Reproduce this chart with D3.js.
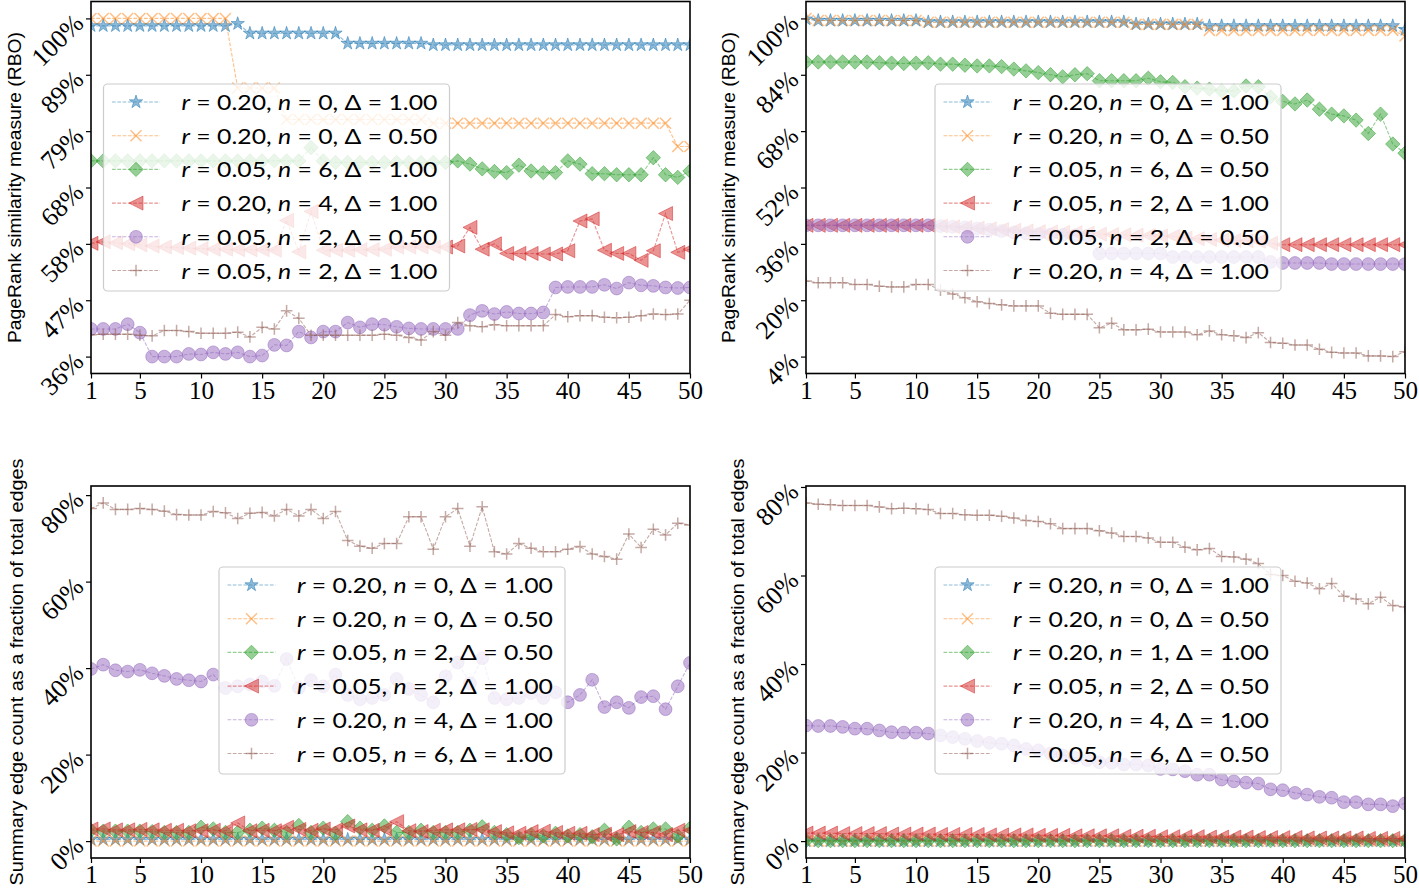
<!DOCTYPE html>
<html><head><meta charset="utf-8">
<script src="https://cdn.jsdelivr.net/npm/d3@7"></script>
<style>body{margin:0;background:#fff}svg{display:block}</style>
</head><body><svg id="c" width="1419" height="891"></svg>
<script>
// ---------------- data ----------------
const steps = [1,2,3,4,5,6,7,8,9,10,11,12,13,14,15,16,17,18,19,20,21,22,23,24,25,26,27,28,29,30,31,32,33,34,35,36,37,38,39,40,41,42,43,44,45,46,47,48,49,50];
const xTicks = [1,5,10,15,20,25,30,35,40,45,50];
const rboTicksA = [36.4,47.0,57.6,68.2,78.8,89.4,100];
const rboTicksB = [3.9,19.92,35.93,51.95,67.97,83.98,100];
const edgeTicks = [0,20,40,60,80];

// Panel A (top-left) RBO
const rboA_blue = [98.6,98.6,98.6,98.6,98.6,98.6,98.6,98.6,98.6,98.6,98.6,98.6,99.0,97.2,97.2,97.2,97.2,97.2,97.2,97.2,97.2,95.3,95.3,95.3,95.3,95.3,95.3,95.3,95.0,95.0,95.0,95.0,95.0,95.0,95.0,95.0,95.0,95.0,95.0,95.0,95.0,95.0,95.0,95.0,95.0,95.0,95.0,95.0,95.0,95.0];
const rboA_orange = [100,100,100,100,100,100,100,100,100,100,100,100,86.9,86.9,86.9,86.9,81.0,81.0,81.0,81.0,81.0,81.0,81.0,81.0,81.0,81.0,81.0,81.0,80.3,80.3,80.3,80.3,80.3,80.3,80.3,80.3,80.3,80.3,80.3,80.3,80.3,80.3,80.3,80.3,80.3,80.3,80.3,80.3,75.9,75.9];
const rboA_green = [73.2,73.2,73.2,73.2,73.2,73.2,73.2,73.2,73.2,73.2,73.2,73.2,73.2,73.2,73.2,73.2,73.2,73.2,75.7,73.2,72.9,72.9,72.9,72.9,72.9,72.9,72.9,72.9,72.9,72.9,73.2,72.6,71.7,71.2,71.0,72.4,71.3,71.0,71.0,73.2,72.6,70.8,70.8,70.6,70.6,70.6,73.8,70.6,70.1,71.3];
const rboA_red = [57.7,58.0,57.8,57.6,57.4,57.2,57.0,56.9,56.8,56.7,56.6,56.6,56.5,56.5,56.5,56.4,62.0,56.1,63.7,56.4,56.4,56.4,56.5,56.5,56.6,57.0,57.0,57.0,57.0,57.0,57.2,60.7,56.6,57.6,55.8,55.8,55.8,55.7,55.7,56.3,61.9,62.3,56.4,55.8,55.8,54.5,56.3,63.3,56.0,56.6];
const rboA_purple = [41.6,41.6,41.6,42.5,40.9,36.4,36.4,36.4,36.9,36.8,37.2,36.9,37.2,36.4,36.6,38.6,38.5,41.1,40.0,41.1,41.1,42.8,41.9,42.5,42.4,42.0,41.7,41.6,41.6,41.6,41.6,44.2,45.0,44.4,44.8,44.5,44.5,44.7,49.4,49.5,49.5,49.5,49.9,49.2,50.3,49.8,49.7,49.4,49.3,49.4];
const rboA_brown = [40.5,40.6,40.6,40.6,40.4,40.3,41.3,41.3,41.1,40.8,40.8,40.8,41.0,40.1,41.9,41.6,45.0,43.6,40.4,40.4,40.4,40.4,40.4,40.4,40.6,40.4,40.0,39.5,41.1,40.4,42.8,42.2,42.0,42.4,42.2,42.2,42.2,42.2,44.3,43.9,44.1,44.1,43.8,43.7,43.8,44.1,44.4,44.3,44.4,47.0];
// Panel B (top-right) RBO
const rboB_blue = [99.8,99.4,99.4,99.4,99.4,99.4,99.4,99.4,99.4,99.4,99.0,99.0,99.0,99.0,99.0,99.0,99.0,99.0,99.0,99.0,99.0,99.0,99.0,99.0,99.0,99.0,99.0,98.4,98.4,98.4,98.4,98.4,98.4,97.9,97.9,97.9,97.9,97.9,97.9,97.9,97.9,97.9,97.9,97.9,97.9,97.9,97.9,97.9,97.9,96.8];
const rboB_orange = [100,99.4,99.4,99.4,99.4,99.4,99.4,99.4,99.4,99.4,98.9,98.9,98.9,98.9,98.9,98.9,98.9,98.9,98.9,98.9,98.9,98.9,98.9,98.9,98.9,98.9,98.9,98.3,98.3,98.3,98.3,98.3,98.3,96.6,96.6,96.6,96.6,96.6,96.6,96.6,96.6,96.6,96.6,96.6,96.6,96.6,96.6,96.6,96.6,95.0];
const rboB_green = [87.6,87.6,87.6,87.6,87.6,87.6,87.4,87.3,87.2,87.3,87.4,87.0,87.0,86.7,86.5,86.5,86.3,85.6,85.1,84.6,84.0,83.4,84.0,84.3,82.3,82.3,82.3,82.3,83.0,82.0,81.8,80.6,80.2,79.9,79.4,79.4,80.8,80.6,77.7,76.4,75.7,76.8,74.2,72.8,72.3,71.1,67.3,72.8,64.3,61.7];
const rboB_red = [41.2,41.2,41.2,41.2,41.2,41.2,41.2,41.2,41.2,41.2,41.2,41.0,40.8,40.6,40.4,40.2,40.0,39.8,39.6,39.4,39.3,39.2,39.1,39.0,38.7,38.6,38.5,38.4,38.3,38.2,38.1,37.6,37.4,37.2,37.0,36.9,36.8,36.7,36.1,35.7,35.7,35.7,35.7,35.7,35.7,35.7,35.7,35.7,35.7,35.7];
const rboB_purple = [41.2,41.2,41.2,41.2,41.2,41.2,41.2,41.2,41.2,41.2,41.2,41.0,40.8,40.6,40.3,40.0,39.6,39.2,38.9,38.7,38.6,38.5,38.4,38.3,33.2,33.2,33.2,33.2,33.2,33.2,32.2,32.2,32.2,32.2,32.2,32.2,32.2,32.2,30.8,30.5,30.5,30.5,30.5,30.2,30.2,30.2,30.2,30.2,30.2,30.2];
const rboB_brown = [25.4,24.9,24.9,24.9,24.4,24.4,23.9,23.7,23.7,24.4,24.4,22.8,21.7,20.6,19.5,19.0,18.6,18.3,18.3,18.3,16.2,15.9,15.9,15.9,12.1,13.4,11.5,11.5,11.7,10.9,10.9,10.9,10.1,11.2,10.1,9.8,9.3,10.7,7.9,7.7,7.2,7.2,6.0,5.1,4.9,4.9,4.1,4.1,3.9,5.3];
// Panel C (bottom-left) edge fraction
const edgeC_blue = [0.4,0.4,0.4,0.4,0.4,0.4,0.4,0.4,0.4,0.4,0.4,0.4,0.4,0.4,0.4,0.4,0.4,0.4,0.4,0.4,0.4,0.4,0.4,0.4,0.4,0.4,0.4,0.4,0.4,0.4,0.4,0.4,0.4,0.4,0.4,0.4,0.4,0.4,0.4,0.4,0.4,0.4,0.4,0.4,0.4,0.4,0.4,0.4,0.4,0.4];
const edgeC_orange = [0,0,0,0,0,0,0,0,0,0,0,0,0,0,0,0,0,0,0,0,0,0,0,0,0,0,0,0,0,0,0,0,0,0,0,0,0,0,0,0,0,0,0,0,0,0,0,0,0,0];
const edgeC_green = [2.5,2.3,2.3,2.3,2.3,2.2,2.0,2.0,2.0,3.2,2.8,2.0,2.0,2.5,3.0,2.5,2.0,3.6,2.0,3.0,1.8,4.5,3.0,2.5,3.5,2.0,2.0,2.5,2.0,2.0,2.0,2.5,3.3,2.0,1.5,0.8,1.5,1.2,1.8,1.2,1.5,1.0,2.5,0.5,3.2,2.0,2.8,2.8,1.2,3.0];
const edgeC_red = [2.8,2.8,2.6,2.6,2.7,2.6,2.5,2.5,2.4,2.4,2.5,2.4,4.2,2.4,2.5,2.4,3.2,2.7,2.5,2.8,2.6,3.5,2.6,2.5,2.8,4.5,2.4,2.2,2.5,2.6,2.6,2.7,2.6,2.2,1.9,1.8,2.2,2.3,2.0,1.8,1.8,1.5,1.6,1.5,2.2,2.0,2.0,1.5,2.5,2.5];
const edgeC_purple = [39.8,40.8,39.5,39.2,39.6,38.8,38.2,37.5,37.2,36.9,38.5,35.4,35.8,36.2,36.9,35.9,42.1,35.4,37.2,35.8,38.5,33.8,32.8,33.1,33.8,37.5,35.2,33.8,32.1,38.1,41.3,36.5,42.3,33.1,32.8,33.1,34.2,33.1,34.4,32.1,33.8,37.3,31.0,32.1,30.8,33.3,33.5,30.5,35.8,41.2];
const edgeC_brown = [76.9,78.2,76.7,76.7,76.9,76.7,76.3,75.5,75.4,75.4,76.2,75.9,74.6,75.8,76.0,75.2,76.7,75.2,76.7,74.6,76.2,69.5,68.2,67.7,68.8,68.8,75.0,75.0,67.5,75.0,76.9,68.2,77.3,66.9,66.4,68.8,67.7,66.9,66.9,67.5,68.1,66.4,65.8,65.2,71.0,67.9,72.1,70.8,73.5,73.1];
// Panel D (bottom-right) edge fraction
const edgeD_blue = [0,0,0,0,0,0,0,0,0,0,0,0,0,0,0,0,0,0,0,0,0,0,0,0,0,0,0,0,0,0,0,0,0,0,0,0,0,0,0,0,0,0,0,0,0,0,0,0,0,0];
const edgeD_orange = [0,0,0,0,0,0,0,0,0,0,0,0,0,0,0,0,0,0,0,0,0,0,0,0,0,0,0,0,0,0,0,0,0,0,0,0,0,0,0,0,0,0,0,0,0,0,0,0,0,0];
const edgeD_green = [0.1,0.1,0.1,0.1,0.1,0.1,0.1,0.1,0.1,0.1,0.1,0.1,0.1,0.1,0.1,0.1,0.1,0.1,0.1,0.1,0.1,0.1,0.1,0.1,0.1,0.1,0.1,0.1,0.1,0.1,0.1,0.1,0.1,0.1,0.1,0.1,0.1,0.1,0.1,0.1,0.1,0.1,0.1,0.1,0.1,0.1,0.1,0.1,0.1,0.1];
const edgeD_red = [1.8,1.8,1.8,1.7,1.7,1.7,1.7,1.6,1.6,1.6,1.6,1.5,1.5,1.5,1.5,1.4,1.4,1.4,1.4,1.3,1.3,1.3,1.2,1.2,1.2,1.2,1.1,1.1,1.1,1.0,1.0,1.0,1.0,0.9,0.9,0.9,0.9,0.8,0.8,0.8,0.8,0.7,0.7,0.7,0.7,0.7,0.6,0.6,0.6,0.6];
const edgeD_purple = [26.1,26.0,26.0,25.8,25.4,25.4,25.0,24.6,24.5,24.5,24.3,23.9,23.5,23.1,22.6,22.2,22.0,21.6,20.8,20.5,19.8,19.4,18.8,18.3,17.8,17.7,17.3,17.3,17.1,16.3,16.2,15.8,15.0,15.0,13.9,13.5,13.2,13.0,11.7,11.5,10.9,10.5,10.0,9.8,8.8,8.8,8.3,8.3,7.9,8.5];
const edgeD_brown = [76.4,76.1,76.0,75.8,75.8,75.8,75.5,75.1,75.2,75.1,74.9,74.0,74.0,73.7,73.6,73.6,73.4,73.0,72.4,72.2,71.7,70.6,70.6,70.6,70.1,69.6,68.8,68.8,68.5,67.5,67.5,66.4,65.8,66.1,64.3,64.2,63.7,62.7,60.2,60.0,58.7,58.3,57.0,58.2,55.3,54.7,53.6,55.1,53.2,52.9];

// legend labels [r, n, Delta]
const legendA = [["0.20","0","1.00"],["0.20","0","0.50"],["0.05","6","1.00"],["0.20","4","1.00"],["0.05","2","0.50"],["0.05","2","1.00"]];
const legendB = [["0.20","0","1.00"],["0.20","0","0.50"],["0.05","6","0.50"],["0.05","2","1.00"],["0.05","2","0.50"],["0.20","4","1.00"]];
const legendC = [["0.20","0","1.00"],["0.20","0","0.50"],["0.05","2","0.50"],["0.05","2","1.00"],["0.20","4","1.00"],["0.05","6","1.00"]];
const legendD = [["0.20","0","1.00"],["0.20","0","0.50"],["0.20","1","1.00"],["0.05","2","0.50"],["0.20","4","1.00"],["0.05","6","0.50"]];

const yLabelRbo = "PageRank similarity measure (RBO)";
const yLabelEdge = "Summary edge count as a fraction of total edges";

// ---------------- style / layout ----------------
const colors = ["#1f77b4","#ff7f0e","#2ca02c","#d62728","#9467bd","#8c564b"];
const shapes = ["star","x","diamond","tri","circle","plus"];

const panels = [
  {x:91, y:1.5, w:599, h:372, ticks:rboTicksA, label:yLabelRbo, labelX:14, labelLen:311,
   series:[rboA_blue,rboA_orange,rboA_green,rboA_red,rboA_purple,rboA_brown], legend:legendA, lx:103.5, ly:84},
  {x:806, y:1.5, w:599, h:372, ticks:rboTicksB, label:yLabelRbo, labelX:728, labelLen:311,
   series:[rboB_blue,rboB_orange,rboB_green,rboB_red,rboB_purple,rboB_brown], legend:legendB, lx:935, ly:84},
  {x:91, y:486, w:599, h:372, ticks:edgeTicks, label:yLabelEdge, labelX:16, labelLen:427,
   series:[edgeC_blue,edgeC_orange,edgeC_green,edgeC_red,edgeC_purple,edgeC_brown], legend:legendC, lx:219, ly:567},
  {x:806, y:486, w:599, h:372, ticks:edgeTicks, label:yLabelEdge, labelX:737, labelLen:427,
   series:[edgeD_blue,edgeD_orange,edgeD_green,edgeD_red,edgeD_purple,edgeD_brown], legend:legendD, lx:935, ly:567}
];

function shapePath(s){
  if (s === "star") {
    const R = 7, r = R*0.382; let d = "";
    for (let i=0;i<10;i++){
      const rad = i%2===0 ? R : r;
      const a = -Math.PI/2 + i*Math.PI/5;
      d += (i===0?"M":"L") + (rad*Math.cos(a)).toFixed(2) + "," + (rad*Math.sin(a)).toFixed(2);
    }
    return d + "Z";
  }
  if (s === "x") return "M-5.5,-5.5L5.5,5.5M-5.5,5.5L5.5,-5.5";
  if (s === "diamond") return "M0,-7.2L7.2,0L0,7.2L-7.2,0Z";
  if (s === "tri") return "M-7,0L7,-7L7,7Z";
  if (s === "circle") return "M6.4,0A6.4,6.4 0 1,1 -6.4,0A6.4,6.4 0 1,1 6.4,0Z";
  if (s === "plus") return "M-5.8,0L5.8,0M0,-5.8L0,5.8";
}
const stroked = s => s === "x" || s === "plus";

function drawMarker(g, s, c, x, y){
  const p = g.append("path").attr("d", shapePath(s)).attr("transform", `translate(${x},${y})`);
  if (stroked(s)) p.attr("fill","none").attr("stroke",c).attr("stroke-width",1.5).attr("stroke-opacity",0.5);
  else p.attr("fill",c).attr("fill-opacity",0.5).attr("stroke",c).attr("stroke-width",1).attr("stroke-opacity",0.5);
}

const svg = d3.select("#c");
const fmtPct = d => d3.format(".0f")(d) + "%";

panels.forEach((p, pi) => {
  const xs = d3.scaleLinear().domain([1,50]).range([p.x, p.x + p.w]);
  const all = p.series.flat();
  const ext = d3.extent(all);
  const pad = (ext[1]-ext[0]) * 0.05;
  const ys = d3.scaleLinear().domain([ext[0]-pad, ext[1]+pad]).range([p.y + p.h, p.y]);

  const clipId = "clip" + pi;
  svg.append("clipPath").attr("id", clipId).append("rect")
    .attr("x", p.x).attr("y", p.y).attr("width", p.w).attr("height", p.h);

  const plot = svg.append("g").attr("clip-path", `url(#${clipId})`);
  p.series.forEach((vals, si) => {
    const c = colors[si];
    const line = d3.line().x((d,i) => xs(steps[i])).y(d => ys(d));
    plot.append("path").datum(vals).attr("d", line)
      .attr("fill","none").attr("stroke",c).attr("stroke-opacity",0.5)
      .attr("stroke-width",1.1).attr("stroke-dasharray","3.7,1.6");
    const mg = plot.append("g");
    vals.forEach((v,i) => drawMarker(mg, shapes[si], c, xs(steps[i]), ys(v)));
  });

  // axes
  const xAxis = d3.axisBottom(xs).tickValues(xTicks).tickSize(5).tickFormat(d3.format("d"));
  const gx = svg.append("g").attr("transform", `translate(0,${p.y + p.h})`).call(xAxis);
  gx.select(".domain").remove();
  gx.selectAll(".tick line").attr("stroke","#000").attr("stroke-width",1.2);
  gx.selectAll(".tick text").attr("y", 25).attr("dy", null)
    .attr("font-family","'Liberation Serif', 'DejaVu Serif', serif").attr("font-size", 25).attr("fill","#000");

  const yAxis = d3.axisLeft(ys).tickValues(p.ticks).tickSize(5).tickFormat(fmtPct);
  const gy = svg.append("g").attr("transform", `translate(${p.x},0)`).call(yAxis);
  gy.select(".domain").remove();
  gy.selectAll(".tick line").attr("stroke","#000").attr("stroke-width",1.2);
  gy.selectAll(".tick text").attr("x", null).attr("dy", null)
    .attr("transform","translate(-12,0) rotate(-45)")
    .attr("text-anchor","end").attr("dominant-baseline","central")
    .attr("font-family","'Liberation Serif', 'DejaVu Serif', serif").attr("font-size", 26).attr("fill","#000");

  // spines
  svg.append("rect").attr("x", p.x).attr("y", p.y).attr("width", p.w).attr("height", p.h)
    .attr("fill","none").attr("stroke","#000").attr("stroke-width",1.6);

  // y label
  svg.append("text").text(p.label)
    .attr("transform", `translate(${p.labelX},${p.y + p.h/2}) rotate(-90)`)
    .attr("text-anchor","middle").attr("dominant-baseline","central")
    .attr("font-family","'Liberation Sans', Arial, sans-serif").attr("font-size", 19)
    .attr("textLength", p.labelLen).attr("lengthAdjust","spacingAndGlyphs").attr("fill","#000");

  // legend
  const lg = svg.append("g");
  const rowH = 33.7, boxW = 346, boxH = 207;
  lg.append("rect").attr("x", p.lx).attr("y", p.ly).attr("width", boxW).attr("height", boxH)
    .attr("rx", 4).attr("fill","#fff").attr("fill-opacity",0.8)
    .attr("stroke","#cccccc").attr("stroke-width",1.2);
  p.legend.forEach((lab, si) => {
    const cy = p.ly + 18 + si*rowH;
    const c = colors[si];
    lg.append("line").attr("x1", p.lx + 8.5).attr("x2", p.lx + 56.5).attr("y1", cy).attr("y2", cy)
      .attr("stroke", c).attr("stroke-opacity",0.5).attr("stroke-width",1.1).attr("stroke-dasharray","3.7,1.6");
    drawMarker(lg, shapes[si], c, p.lx + 32.5, cy);
    const t = lg.append("text").attr("x", p.lx + 78).attr("y", cy + 8)
      .attr("font-family","'Lato', 'DejaVu Sans', sans-serif").attr("font-size", 22).attr("fill","#000")
      .attr("textLength", 256).attr("lengthAdjust","spacingAndGlyphs");
    t.append("tspan").attr("font-style","italic").text("r");
    t.append("tspan").text(" = " + lab[0] + ", ");
    t.append("tspan").attr("font-style","italic").text("n");
    t.append("tspan").text(" = " + lab[1] + ", \u0394 = " + lab[2]);
  });
});
</script>
</body></html>
